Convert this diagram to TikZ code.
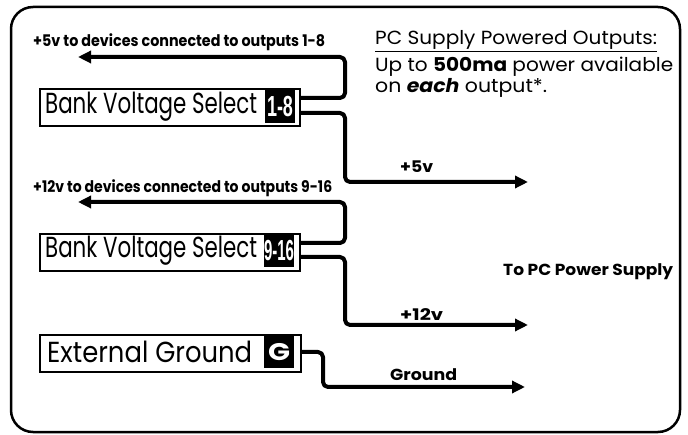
\documentclass[tikz,border=0pt]{standalone}
\usepackage{fontspec}
\setmainfont{Poppins}
\newfontfamily\tagfont{Liberation Sans}
\usetikzlibrary{arrows.meta,calc}
\newcommand{\fitw}[2]{\resizebox{#1pt}{\height}{#2}}
\begin{document}
\begin{tikzpicture}[x=1pt,y=-1pt,
  wire/.style={line width=4pt,rounded corners=5pt,line join=round},
  arr/.style={wire,-{Triangle[length=13pt,width=12pt]}},
  selbox/.style={draw,line width=2pt,minimum height=37pt,inner sep=0pt,anchor=north west},
  seltext/.style={anchor=west,inner sep=0pt,font=\fontsize{29}{29}\selectfont},
  tagbox/.style={fill=black,text=white,inner sep=0pt,minimum height=33pt,minimum width=30pt,font=\tagfont\bfseries\fontsize{29}{29}\selectfont},
  lbl/.style={font=\bfseries\fontsize{16}{16}\selectfont,inner sep=0pt,anchor=west},
  note/.style={font=\fontsize{19}{19}\selectfont,inner sep=0pt,anchor=west}
]
\useasboundingbox (0,0) rectangle (688,435);
\draw[line width=2.5pt,rounded corners=22pt] (11,7) rectangle (680,432);

% boxes
\node[selbox,minimum width=260pt] (b1) at (39,88) {};
\node[seltext] (t1) at (45,106.5) {\fitw{212}{Bank Voltage Select}};
\node[tagbox] (g1) at (280,106.5) {\fitw{26}{1-8}};

\node[selbox,minimum width=260pt] (b2) at (39,233) {};
\node[seltext] (t2) at (45,251) {\fitw{212}{Bank Voltage Select}};
\node[tagbox] (g2) at (279,251) {\fitw{30}{9-16}};

\node[selbox,minimum width=261pt] (b3) at (39,334) {};
\node[seltext] (t3) at (47,352) {\fitw{205}{External Ground}};
\node[tagbox,font=\bfseries\fontsize{24}{24}\selectfont] (g3) at (279,352) {\fitw{22}{G}};

% coordinates
\coordinate (o1a) at (299,98);
\coordinate (o1b) at (299,113);
\coordinate (e1a) at (78,57);
\coordinate (e1b) at (528,182);
\coordinate (o2a) at (299,243);
\coordinate (o2b) at (299,257);
\coordinate (e2a) at (78,202);
\coordinate (e2b) at (528,325);
\coordinate (o3) at (300,352);
\coordinate (e3) at (525,387);

\draw[arr] (o1a) -- (345,98) -- (345,57) -- (e1a);
\draw[arr] (o1b) -- (345,113) -- (345,182) -- (e1b);
\draw[arr] (o2a) -- (345,243) -- (345,202) -- (e2a);
\draw[arr] (o2b) -- (345,257) -- (345,325) -- (e2b);
\draw[arr] (o3) -- (323,352) -- (323,387) -- (e3);

% labels
\node[lbl] (l1) at (33,42) {\fitw{292}{+5v to devices connected to outputs 1-8}};
\node[lbl] (l2) at (33,188) {\fitw{299}{+12v to devices connected to outputs 9-16}};
\node[lbl] (l5) at (400,167) {\fitw{33}{+5v}};
\node[lbl] (l12) at (400,315) {\fitw{43}{+12v}};
\node[lbl] (lg) at (390,375) {\fitw{67}{Ground}};
\node[lbl] (lpc) at (503,272) {\fitw{170}{To PC Power Supply}};

\node[note] (n1) at (375,41) {\underline{\fitw{282}{PC Supply Powered Outputs:}}};
\node[note] (n2) at (375,67) {\fitw{298}{Up to \textbf{500ma} power available}};
\node[note] (n3) at (375,88) {\fitw{172}{on \textbf{\textit{each}} output*.}};
\end{tikzpicture}
\end{document}
